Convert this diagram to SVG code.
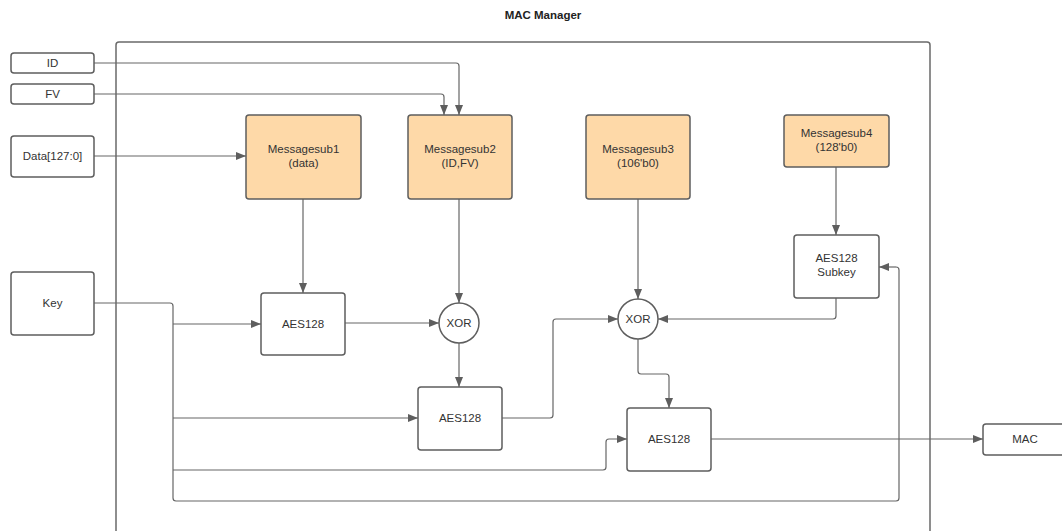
<svg xmlns="http://www.w3.org/2000/svg" width="1062" height="531" viewBox="0 0 1062 531">
  <defs>
    <marker id="arrow" viewBox="0 0 10 10" refX="10" refY="5" markerWidth="10" markerHeight="10" markerUnits="userSpaceOnUse" orient="auto">
      <path d="M0,1 L10,5 L0,9 Z" fill="#5e5e5e"/>
    </marker>
  </defs>
  <style>
    .box { fill: #ffffff; stroke: #5e5e5e; stroke-width: 1.5; }
    .msg { fill: #fed9a8; stroke: #5e5e5e; stroke-width: 1.5; }
    .frame { fill: none; stroke: #6a6a6a; stroke-width: 1.5; }
    .wire { fill: none; stroke: #666666; stroke-width: 1.2; }
    .arr { marker-end: url(#arrow); }
    text { font-family: "Liberation Sans", Arial, sans-serif; font-size: 11.5px; fill: #333333; text-anchor: middle; }
    .title { font-weight: bold; font-size: 11.5px; fill: #222222; }
  </style>
  <rect width="1062" height="531" fill="#ffffff"/>

  <text class="title" x="543" y="19">MAC Manager</text>

  <!-- module boundary, open at the bottom -->
  <path class="frame" d="M116,531 V45 Q116,42 119,42 H927 Q930,42 930,45 V531"/>

  <!-- connectors -->
  <g id="connectors">
    <path class="wire arr" d="M94,63 H456 Q459,63 459,66 V115"/>
    <path class="wire arr" d="M94,94 H441 Q444,94 444,97 V115"/>
    <path class="wire arr" d="M94,156 H246"/>
    <path class="wire arr" d="M303,199 V293"/>
    <path class="wire" d="M94,303 H170 Q173,303 173,306 V498 Q173,501 176,501 H896 Q899,501 899,498 V270 Q899,267 896,267"/>
    <path class="wire arr" d="M896,267 H879"/>
    <path class="wire arr" d="M173,324 H261"/>
    <path class="wire arr" d="M345,323 H439"/>
    <path class="wire arr" d="M459,199 V303"/>
    <path class="wire arr" d="M459,343 V387"/>
    <path class="wire arr" d="M173,418 H418"/>
    <path class="wire arr" d="M502,418 H550 Q553,418 553,415 V322 Q553,319 556,319 H618"/>
    <path class="wire arr" d="M638,199 V299"/>
    <path class="wire arr" d="M836,167 V235"/>
    <path class="wire arr" d="M836,298 V316 Q836,319 833,319 H658"/>
    <path class="wire arr" d="M638,339 V371 Q638,374 641,374 H666 Q669,374 669,377 V408"/>
    <path class="wire arr" d="M173,470 H603 Q606,470 606,467 V442 Q606,439 609,439 H627"/>
    <path class="wire arr" d="M711,439 H983"/>
  </g>

  <!-- inputs -->
  <g id="in-id">
    <rect class="box" x="11" y="53" width="83" height="20" rx="3"/>
    <text x="52.5" y="67">ID</text>
  </g>
  <g id="in-fv">
    <rect class="box" x="11" y="84" width="83" height="20" rx="3"/>
    <text x="52.5" y="98">FV</text>
  </g>
  <g id="in-data">
    <rect class="box" x="11" y="136" width="83" height="41" rx="3"/>
    <text x="52.5" y="160">Data[127:0]</text>
  </g>
  <g id="in-key">
    <rect class="box" x="11" y="272" width="83" height="63" rx="3"/>
    <text x="52.5" y="307">Key</text>
  </g>

  <!-- message blocks -->
  <g id="messagesub1">
    <rect class="msg" x="246" y="115" width="115" height="84" rx="3"/>
    <text x="303.5" y="153">Messagesub1</text>
    <text x="303.5" y="167">(data)</text>
  </g>
  <g id="messagesub2">
    <rect class="msg" x="408" y="115" width="104" height="84" rx="3"/>
    <text x="460" y="153">Messagesub2</text>
    <text x="460" y="167">(ID,FV)</text>
  </g>
  <g id="messagesub3">
    <rect class="msg" x="586" y="115" width="104" height="84" rx="3"/>
    <text x="638" y="153">Messagesub3</text>
    <text x="638" y="167">(106'b0)</text>
  </g>
  <g id="messagesub4">
    <rect class="msg" x="784" y="115" width="105" height="52" rx="3"/>
    <text x="836.5" y="137">Messagesub4</text>
    <text x="836.5" y="151">(128'b0)</text>
  </g>

  <!-- cipher blocks -->
  <g id="aes128-1">
    <rect class="box" x="261" y="293" width="84" height="62" rx="3"/>
    <text x="303" y="328">AES128</text>
  </g>
  <g id="xor-1">
    <circle class="box" cx="459" cy="323" r="20"/>
    <text x="459" y="327">XOR</text>
  </g>
  <g id="aes128-2">
    <rect class="box" x="418" y="387" width="84" height="63" rx="3"/>
    <text x="460" y="422">AES128</text>
  </g>
  <g id="xor-2">
    <circle class="box" cx="638" cy="319" r="20"/>
    <text x="638" y="323">XOR</text>
  </g>
  <g id="aes128-subkey">
    <rect class="box" x="794" y="235" width="85" height="63" rx="3"/>
    <text x="836.5" y="262">AES128</text>
    <text x="836.5" y="276">Subkey</text>
  </g>
  <g id="aes128-3">
    <rect class="box" x="627" y="408" width="84" height="63" rx="3"/>
    <text x="669" y="443">AES128</text>
  </g>

  <!-- output -->
  <g id="out-mac">
    <rect class="box" x="983" y="424" width="84" height="31" rx="3"/>
    <text x="1025" y="443">MAC</text>
  </g>
</svg>
